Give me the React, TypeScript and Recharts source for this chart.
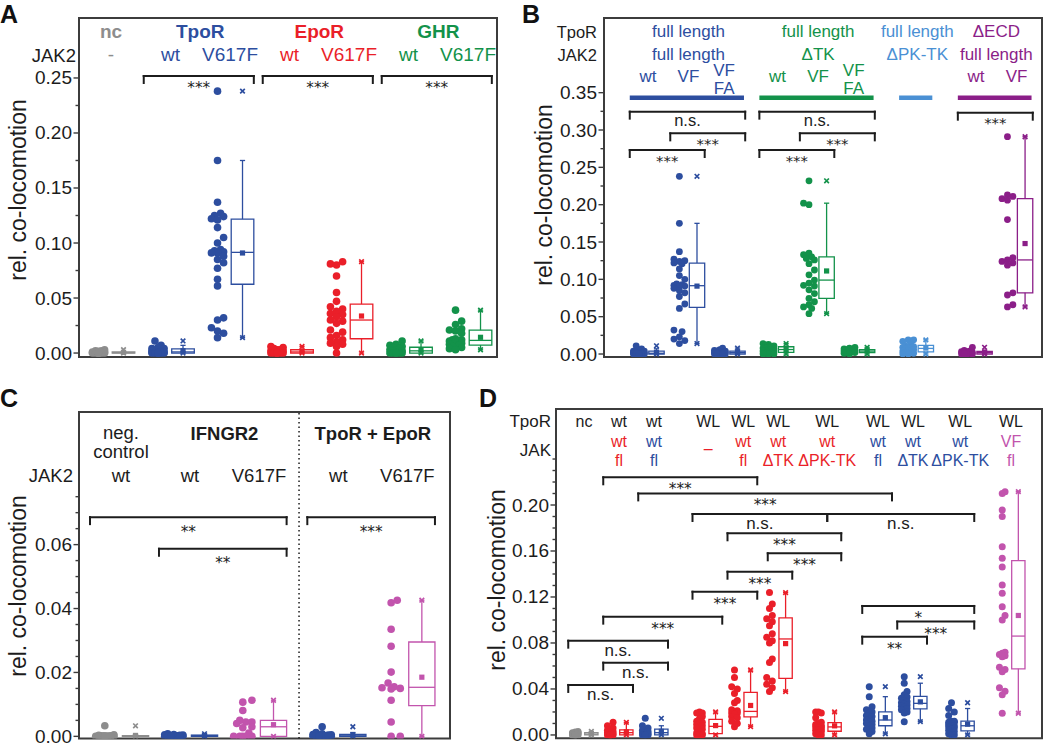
import React from 'react'
import { ComposedChart, Scatter, XAxis, YAxis, ReferenceArea, ReferenceLine } from 'recharts'

const FONT = '"Liberation Sans", Arial, Helvetica, sans-serif'
const STAR_FONT = '"DejaVu Sans", sans-serif'
const INK = '#1c1c1c'
const FRAME = '#3c3c3c'
const GREY = '#8d8d8d'
const BLUE = '#2d4e9f'
const RED = '#ea1f29'
const GREEN = '#13924a'
const LBLUE = '#4a90d4'
const PURPLE = '#8b1e88'
const MAGENTA = '#c254ad'

// ---------- panel A: receptor / JAK2 variant
const aReceptors = ['nc', 'TpoR', 'EpoR', 'GHR']
const aJak2 = ['-', 'wt', 'V617F', 'wt', 'V617F', 'wt', 'V617F']
const aNc = [0.003, 0.002, 0.002, 0.0015, 0.001, 0.001, 0.001, 0.0005, 0.0005, 0, 0, 0, 0, 0, 0, 0, 0, 0]
const aTpoRWt = [0.011, 0.007, 0.005, 0.004, 0.004, 0.003, 0.002, 0.002, 0.0015, 0.001, 0.001, 0.0005, 0.0005, 0, 0, 0, 0, 0, 0, 0]
const aTpoRVf = [0.238, 0.175, 0.137, 0.127, 0.125, 0.124, 0.122, 0.121, 0.114, 0.105, 0.1, 0.094, 0.093, 0.092, 0.091, 0.091, 0.088, 0.085, 0.082, 0.077, 0.067, 0.061, 0.032, 0.03, 0.023, 0.02, 0.018, 0.014]
const aEpoRWt = [0.006, 0.005, 0.004, 0.003, 0.003, 0.002, 0.002, 0.001, 0.001, 0.001, 0, 0, 0, 0, 0, 0, 0]
const aEpoRVf = [0.083, 0.081, 0.08, 0.07, 0.055, 0.047, 0.042, 0.04, 0.038, 0.036, 0.035, 0.033, 0.03, 0.029, 0.027, 0.021, 0.019, 0.016, 0.014, 0.012, 0.01, 0.009, 0.008, 0.006, 0]
const aGhrWt = [0.011, 0.008, 0.007, 0.006, 0.005, 0.004, 0.003, 0.003, 0.002, 0.002, 0.001, 0.001, 0, 0, 0, 0, 0, 0]
const aGhrVf = [0.039, 0.029, 0.026, 0.022, 0.021, 0.02, 0.018, 0.013, 0.012, 0.012, 0.011, 0.011, 0.01, 0.009, 0.008, 0.007, 0.006, 0.005, 0.004, 0.003]
const aMajor = [0, 0.05, 0.1, 0.15, 0.2, 0.25]
const aMinor = [0.025, 0.075, 0.125, 0.175, 0.225]

// ---------- panel B: TpoR / JAK2 constructs
const bTpoR = ['full length', 'full length', 'full length', 'ΔECD']
const bJak2 = ['full length', 'ΔTK', 'ΔPK-TK', 'full length']
const bVariant = ['wt', 'VF', 'VF\nFA', 'wt', 'VF', 'VF\nFA', '', 'wt', 'VF']
const bVfFa = [0.008, 0.006, 0.005, 0.004, 0.004, 0.003, 0.003, 0.002, 0.002, 0.001, 0.001, 0.001, 0, 0, 0, 0, 0]
const bTkWt = [0.014, 0.013, 0.012, 0.011, 0.01, 0.009, 0.008, 0.008, 0.007, 0.006, 0.006, 0.005, 0.004, 0.004, 0.003, 0.002, 0.001, 0, 0, 0]
const bTkVf = [0.232, 0.202, 0.2, 0.135, 0.133, 0.13, 0.128, 0.126, 0.121, 0.1125, 0.106, 0.099, 0.095, 0.092, 0.091, 0.086, 0.081, 0.0745, 0.07, 0.066, 0.063, 0.061, 0.054]
const bTkVfFa = [0.009, 0.008, 0.007, 0.006, 0.006, 0.005, 0.005, 0.004, 0.004, 0.003, 0.003, 0.002, 0.002, 0.001, 0]
const bPkTk = [0.019, 0.019, 0.017, 0.013, 0.011, 0.01, 0.009, 0.009, 0.008, 0.007, 0.006, 0.005, 0.004, 0.003, 0.002, 0.001, 0, 0]
const bEcdWt = [0.009, 0.005, 0.004, 0.003, 0.003, 0.002, 0.002, 0.001, 0.001, 0, 0, 0, 0]
const bEcdVf = [0.291, 0.213, 0.211, 0.208, 0.206, 0.18, 0.129, 0.126, 0.124, 0.122, 0.119, 0.082, 0.079, 0.066, 0.063]
const bMajor = [0, 0.05, 0.1, 0.15, 0.2, 0.25, 0.3, 0.35]
const bMinor = [0.025, 0.075, 0.125, 0.175, 0.225, 0.275, 0.325]

// ---------- panel C: IFNGR2 and TpoR + EpoR
const cNeg = [0.0033, 0.0005, 0.0003, 0.0002, 0.0002, 0.0001, 0.0001, 0, 0, 0, 0, 0, 0, 0, 0, 0]
const cIfnWt = [0.0008, 0.0006, 0.0005, 0.0004, 0.0003, 0.0002, 0.0002, 0.0001, 0.0001, 0, 0, 0, 0, 0, 0]
const cIfnVf = [0.0113, 0.0107, 0.0081, 0.005, 0.0045, 0.0045, 0.004, 0.003, 0.0027, 0.001, 0, 0, 0, 0, 0]
const cTeWt = [0.003, 0.0012, 0.0008, 0.0006, 0.0005, 0.0004, 0.0003, 0.0002, 0.0001, 0.0001, 0, 0, 0, 0, 0, 0]
const cTeVf = [0.0426, 0.0418, 0.0335, 0.0282, 0.0201, 0.0167, 0.0155, 0.0152, 0.015, 0.0148, 0.0113, 0.0045, 0, 0]
const cJak2 = ['wt', 'wt', 'V617F', 'wt', 'V617F']
const cMajor = [0, 0.02, 0.04, 0.06]
const cMinor = [0.005, 0.01, 0.015, 0.025, 0.03, 0.035, 0.045, 0.05, 0.055, 0.065, 0.07, 0.075]

// ---------- panel D: TpoR WL / JAK constructs
const dTpoR = ['nc', 'wt', 'wt', 'WL', 'WL', 'WL', 'WL', 'WL', 'WL', 'WL', 'WL']
const dJak = ['', 'wt\nfl', 'wt\nfl', '–', 'wt\nfl', 'wt\nΔTK', 'wt\nΔPK-TK', 'wt\nfl', 'wt\nΔTK', 'wt\nΔPK-TK', 'VF\nfl']
const dNc = [0.003, 0.0025, 0.002, 0.002, 0.0015, 0.001, 0.001, 0.0005, 0, 0, 0, 0, 0, 0]
const dWtRed = [0.011, 0.008, 0.006, 0.005, 0.004, 0.003, 0.003, 0.002, 0.002, 0.001, 0.001, 0, 0, 0, 0, 0, 0]
const dWtBlue = [0.0145, 0.008, 0.006, 0.005, 0.004, 0.003, 0.003, 0.002, 0.001, 0.001, 0, 0, 0, 0, 0]
const dWlNone = [0.02, 0.019, 0.019, 0.016, 0.014, 0.012, 0.011, 0.01, 0.009, 0.008, 0.007, 0.006, 0.005, 0.003, 0.002, 0.001, 0.001, 0, 0, 0]
const dWlFlRed = [0.0565, 0.05, 0.042, 0.04, 0.036, 0.03, 0.028, 0.022, 0.021, 0.02, 0.019, 0.019, 0.018, 0.016, 0.015, 0.012, 0.01, 0.0072]
const dWlTkRed = [0.1238, 0.114, 0.11, 0.104, 0.101, 0.0985, 0.095, 0.088, 0.085, 0.082, 0.08, 0.066, 0.063, 0.05, 0.047, 0.044, 0.041, 0.0377]
const dWlPkRed = [0.02, 0.02, 0.019, 0.015, 0.011, 0.01, 0.009, 0.008, 0.008, 0.007, 0.007, 0.006, 0.005, 0.004, 0.004, 0.003, 0.002, 0.001, 0, 0]
const dWlFlBlue = [0.042, 0.0333, 0.0246, 0.022, 0.02, 0.019, 0.017, 0.016, 0.014, 0.013, 0.012, 0.011, 0.01, 0.009, 0.008, 0.006, 0.005, 0.003, 0.001]
const dWlTkBlue = [0.0507, 0.045, 0.0377, 0.035, 0.033, 0.032, 0.03, 0.029, 0.028, 0.027, 0.026, 0.025, 0.024, 0.023, 0.022, 0.02, 0.019, 0.0116]
const dWlPkBlue = [0.028, 0.023, 0.02, 0.017, 0.012, 0.012, 0.011, 0.011, 0.01, 0.009, 0.008, 0.008, 0.007, 0.006, 0.005, 0.004, 0.003, 0.002, 0.001, 0, 0]
const dWlVf = [0.2116, 0.21, 0.1957, 0.19, 0.1638, 0.1536, 0.146, 0.1304, 0.1232, 0.1116, 0.104, 0.1, 0.072, 0.071, 0.07, 0.069, 0.068, 0.059, 0.057, 0.055, 0.041, 0.038, 0.035, 0.0189]
const dMajor = [0, 0.04, 0.08, 0.12, 0.16, 0.2]
const dMinor = [0.01, 0.02, 0.03, 0.05, 0.06, 0.07, 0.09, 0.1, 0.11, 0.13, 0.14, 0.15, 0.17, 0.18, 0.19, 0.21, 0.22, 0.23, 0.24]

// box statistics (Origin style quartiles, 1.5 IQR whiskers)
function quantile(s: number[], p: number) {
  const n = s.length
  const pos = p * (n + 1)
  if (pos <= 1) return s[0]
  if (pos >= n) return s[n - 1]
  const k = Math.floor(pos)
  return s[k - 1] + (pos - k) * (s[k] - s[k - 1])
}

function boxStats(values: number[]) {
  const s = [...values].sort((a, b) => a - b)
  const q1 = quantile(s, 0.25)
  const med = quantile(s, 0.5)
  const q3 = quantile(s, 0.75)
  const iqr = q3 - q1
  const lo = s.find((v) => v >= q1 - 1.5 * iqr) ?? s[0]
  const hi = [...s].reverse().find((v) => v <= q3 + 1.5 * iqr) ?? s[s.length - 1]
  const mean = s.reduce((a, b) => a + b, 0) / s.length
  return { q1, med, q3, lo, hi, mean, min: s[0], max: s[s.length - 1] }
}

// simple beeswarm inside the dot band left of each box
function swarm(values: number[], center: number, band: number[], pxX: number, pxY: number, r: number) {
  const lo = band[0] * pxX + r
  const hi = band[1] * pxX - r
  const mid = (lo + hi) / 2
  const cands = [mid]
  for (let k = 1; k < 40; k++) {
    const a = mid - k * r * 0.8
    const b = mid + k * r * 0.8
    if (a < lo && b > hi) break
    if (b <= hi) cands.push(b)
    if (a >= lo) cands.push(a)
  }
  const order = values.map((_, i) => i).sort((i, j) => values[i] - values[j])
  const placed: { x: number; y: number }[] = []
  const out: { x: number; y: number }[] = new Array(values.length)
  for (const i of order) {
    const y = values[i] * pxY
    let best = cands[0]
    let bestD = -1
    for (const c of cands) {
      let d = Infinity
      for (const q of placed) d = Math.min(d, Math.hypot(q.x - c, q.y - y))
      if (d >= 1.7 * r) {
        best = c
        break
      }
      if (d > bestD) {
        bestD = d
        best = c
      }
    }
    placed.push({ x: best, y })
    out[i] = { x: center + best / pxX, y: values[i] }
  }
  return out
}

const dotShape = (color: string, r: number) => (s: any) => <circle cx={s.cx} cy={s.cy} r={r} fill={color} />

const markerShape = (color: string) => (s: any) => {
  const { cx, cy } = s
  if (s.payload.k === 'sq') return <rect x={cx - 2.6} y={cy - 2.6} width={5.2} height={5.2} fill={color} />
  const h = 2.3
  return <path d={`M${cx - h},${cy - h}L${cx + h},${cy + h}M${cx - h},${cy + h}L${cx + h},${cy - h}`} stroke={color} strokeWidth={1.7} />
}

const textShape = (s: any) => {
  const d = s.payload
  const star = d.text.includes('*')
  return (
    <text
      x={s.cx}
      y={s.cy + (d.dy ?? 0)}
      textAnchor="middle"
      dominantBaseline="central"
      fontFamily={star ? STAR_FONT : FONT}
      fontSize={star ? d.size * 0.9 : d.size}
      fontWeight={d.bold ? 700 : 400}
      fill={d.color}
    >
      {d.text}
    </text>
  )
}

const yTick = (majors: number[], size: number) => (t: any) => {
  const v = Number(t.payload.value)
  const major = majors.some((m) => Math.abs(m - v) < 1e-9)
  return (
    <g>
      <line x1={t.x} x2={t.x - (major ? 5.5 : 3.5)} y1={t.y} y2={t.y} stroke={FRAME} strokeWidth={1.4} />
      {major && (
        <text x={t.x - 7} y={t.y} textAnchor="end" dominantBaseline="central" fontFamily={FONT} fontSize={size} fill={INK}>
          {v.toFixed(2)}
        </text>
      )}
    </g>
  )
}

type Bracket = { from: number; to: number; y: number; label: string; fromOff?: number; toOff?: number }
type Label = { text: string; at: number | number[]; y: number; color?: string; bold?: boolean; xOff?: number }

function Panel({ cfg }: { cfg: any }) {
  const [fl, ft, fr, fb] = cfg.frame
  const [x0, x1] = cfg.xDomain
  const [y0, y1] = cfg.yDomain
  const pxX = (fr - fl) / (x1 - x0)
  const pxY = (fb - ft) / (y1 - y0)
  const pad = { top: 10, right: 6, bottom: 14 }
  const pos: number[] = cfg.positions
  const at = (a: number | number[]) => (Array.isArray(a) ? (pos[a[0]] + pos[a[1]]) / 2 : pos[a])
  const tickLen = 7 / pxY
  const capHalf = 2.6 / pxX
  const items: React.ReactNode[] = []
  const texts: any[] = []
  const seg = (key: string, xa: number, ya: number, xb: number, yb: number, stroke: string, w: number, cap: any = 'butt') => (
    <ReferenceLine key={key} segment={[{ x: xa, y: ya }, { x: xb, y: yb }]} stroke={stroke} strokeWidth={w} strokeLinecap={cap} ifOverflow="visible" />
  )

  items.push(<ReferenceArea key="frame" x1={x0} x2={x1} y1={y0} y2={y1} fill="none" stroke={FRAME} strokeWidth={2} ifOverflow="visible" />)
  if (cfg.divider != null) {
    items.push(<ReferenceLine key="divider" x={cfg.divider} stroke={INK} strokeDasharray="1.5 3" strokeWidth={1.5} ifOverflow="visible" />)
  }
  for (const [k, b] of (cfg.bars || []).entries()) {
    items.push(seg(`bar${k}`, pos[b.from] - 0.45, b.y, pos[b.to] + 0.37, b.y, b.color, 4.5))
  }
  for (const [k, b] of (cfg.brackets as Bracket[]).entries()) {
    const xa = pos[b.from] + (b.fromOff ?? -0.45)
    const xb = pos[b.to] + (b.toOff ?? 0.4)
    items.push(seg(`bk${k}h`, xa, b.y, xb, b.y, INK, 2, 'square'))
    items.push(seg(`bk${k}a`, xa, b.y, xa, b.y - tickLen, INK, 2, 'square'))
    items.push(seg(`bk${k}b`, xb, b.y, xb, b.y - tickLen, INK, 2, 'square'))
    texts.push({ x: (xa + xb) / 2, y: b.y, text: b.label, color: INK, size: cfg.markSize, dy: b.label === 'n.s.' ? cfg.nsGap : cfg.starGap })
  }
  for (const [i, g] of (cfg.groups as { values: number[]; color: string }[]).entries()) {
    const c = pos[i]
    const s = boxStats(g.values)
    const bx0 = c + 0.02
    const bx1 = c + 0.4
    const xm = c + 0.21
    items.push(<ReferenceArea key={`box${i}`} x1={bx0} x2={bx1} y1={s.q1} y2={s.q3} fill="none" stroke={g.color} strokeWidth={1.3} ifOverflow="visible" />)
    items.push(seg(`med${i}`, bx0, s.med, bx1, s.med, g.color, 1.3))
    items.push(seg(`wh${i}`, xm, s.q3, xm, s.hi, g.color, 1.3))
    items.push(seg(`wl${i}`, xm, s.q1, xm, s.lo, g.color, 1.3))
    items.push(seg(`ch${i}`, xm - capHalf, s.hi, xm + capHalf, s.hi, g.color, 1.3))
    items.push(seg(`cl${i}`, xm - capHalf, s.lo, xm + capHalf, s.lo, g.color, 1.3))
    items.push(
      <Scatter key={`pts${i}`} data={swarm(g.values, c, cfg.band, pxX, pxY, cfg.dotR)} shape={dotShape(g.color, cfg.dotR)} isAnimationActive={false} />,
    )
    items.push(
      <Scatter
        key={`mk${i}`}
        data={[
          { x: xm, y: s.mean, k: 'sq' },
          { x: xm, y: s.min, k: 'x' },
          { x: xm, y: s.max, k: 'x' },
        ]}
        shape={markerShape(g.color)}
        isAnimationActive={false}
      />,
    )
  }
  for (const l of cfg.labels as Label[]) {
    texts.push({ x: at(l.at) + (l.xOff ?? 0), y: l.y, text: l.text, color: l.color ?? INK, bold: l.bold, size: cfg.labelSize })
  }
  items.push(<Scatter key="texts" data={texts} shape={textShape} isAnimationActive={false} />)

  return (
    <div style={{ position: 'absolute', left: fl - cfg.axisWidth, top: ft - pad.top }}>
      <ComposedChart
        width={fr - fl + cfg.axisWidth + pad.right}
        height={fb - ft + pad.top + pad.bottom}
        margin={{ top: pad.top, right: pad.right, bottom: pad.bottom, left: 0 }}
      >
        <XAxis type="number" dataKey="x" domain={cfg.xDomain} hide allowDataOverflow />
        <YAxis
          type="number"
          dataKey="y"
          domain={cfg.yDomain}
          ticks={cfg.ticks}
          interval={0}
          width={cfg.axisWidth}
          axisLine={false}
          tickLine={false}
          tickSize={0}
          tickMargin={0}
          tick={yTick(cfg.majors, cfg.tickSize)}
          allowDataOverflow
        />
        {items}
      </ComposedChart>
    </div>
  )
}

const multi = (t: string, at: number, ys: number[], color: string, xOff = 0): Label[] => {
  if (!t) return []
  const lines = t.split('\n')
  if (lines.length === 1) return [{ text: t, at, y: ys[0], color }]
  return lines.map((s, k) => ({ text: s, at, y: ys[k + 1], color, xOff }))
}

const aColors = [GREY, BLUE, BLUE, RED, RED, GREEN, GREEN]
const panelA = {
  frame: [79, 18, 497, 357],
  axisWidth: 79,
  xDomain: [-0.538, 6.487],
  yDomain: [-0.0036, 0.3045],
  positions: [0, 1, 2, 3, 4, 5, 6],
  groups: [aNc, aTpoRWt, aTpoRVf, aEpoRWt, aEpoRVf, aGhrWt, aGhrVf].map((values, i) => ({ values, color: aColors[i] })),
  ticks: [...aMajor, ...aMinor],
  majors: aMajor,
  brackets: [
    { from: 1, to: 2, y: 0.2518, label: '***' },
    { from: 3, to: 4, y: 0.2518, label: '***' },
    { from: 5, to: 6, y: 0.2518, label: '***' },
  ],
  labels: [
    { text: aReceptors[0], at: 0, y: 0.2918, color: GREY, bold: true },
    { text: aReceptors[1], at: [1, 2], y: 0.2918, color: BLUE, bold: true },
    { text: aReceptors[2], at: [3, 4], y: 0.2918, color: RED, bold: true },
    { text: aReceptors[3], at: [5, 6], y: 0.2918, color: GREEN, bold: true },
    ...aJak2.map((t, i) => ({ text: t, at: i, y: 0.2709, color: aColors[i] })),
  ],
  dotR: 3.8,
  band: [-0.4, -0.02],
  tickSize: 19,
  labelSize: 19,
  markSize: 17,
  starGap: 12,
  nsGap: 9,
}

const bColors = [BLUE, BLUE, BLUE, GREEN, GREEN, GREEN, LBLUE, PURPLE, PURPLE]
const bSpans = [[0, 2], [3, 5], [6, 6], [7, 8]]
const bSpanColors = [BLUE, GREEN, LBLUE, PURPLE]
const panelB = {
  frame: [604, 18, 1042, 357],
  axisWidth: 84,
  xDomain: [-1.086, 9.728],
  yDomain: [-0.004, 0.45],
  positions: [0, 1, 2, 3.2, 4.2, 5.2, 6.65, 8.1, 9.1],
  groups: [aTpoRWt, aTpoRVf, bVfFa, bTkWt, bTkVf, bTkVfFa, bPkTk, bEcdWt, bEcdVf].map((values, i) => ({ values, color: bColors[i] })),
  ticks: [...bMajor, ...bMinor],
  majors: bMajor,
  bars: bSpans.map((sp, k) => ({ from: sp[0], to: sp[1], y: 0.3433, color: bSpanColors[k] })),
  brackets: [
    { from: 0, to: 2, y: 0.3246, label: 'n.s.' },
    { from: 1, to: 2, y: 0.2955, label: '***' },
    { from: 0, to: 1, y: 0.2732, label: '***' },
    { from: 3, to: 5, y: 0.3246, label: 'n.s.' },
    { from: 4, to: 5, y: 0.2955, label: '***' },
    { from: 3, to: 4, y: 0.2732, label: '***' },
    { from: 7, to: 8, y: 0.3232, label: '***' },
  ],
  labels: [
    ...bTpoR.map((t, k) => ({ text: t, at: bSpans[k], y: 0.4317, color: bSpanColors[k] })),
    ...bJak2.map((t, k) => ({ text: t, at: bSpans[k], y: 0.4005, color: bSpanColors[k] })),
    ...bVariant.flatMap((t, i) => multi(t, i, [0.3723, 0.3795, 0.3555], bColors[i], -0.12)),
  ],
  dotR: 3.4,
  band: [-0.45, 0],
  tickSize: 19,
  labelSize: 17,
  markSize: 16.5,
  starGap: 10.5,
  nsGap: 8.5,
}

const cColors = [GREY, BLUE, MAGENTA, BLUE, MAGENTA]
const panelC = {
  frame: [79, 411.7, 450, 738.3],
  axisWidth: 79,
  xDomain: [-0.609, 4.768],
  yDomain: [-0.0007, 0.1015],
  positions: [0, 1, 2, 3.15, 4.15],
  divider: 2.58,
  groups: [cNeg, cIfnWt, cIfnVf, cTeWt, cTeVf].map((values, i) => ({ values, color: cColors[i] })),
  ticks: [...cMajor, ...cMinor],
  majors: cMajor,
  brackets: [
    { from: 0, to: 2, y: 0.0686, label: '**' },
    { from: 1, to: 2, y: 0.0587, label: '**' },
    { from: 3, to: 4, y: 0.0686, label: '***' },
  ],
  labels: [
    { text: 'neg.', at: 0, y: 0.0952 },
    { text: 'control', at: 0, y: 0.0892 },
    { text: 'IFNGR2', at: [1, 2], y: 0.0947, bold: true },
    { text: 'TpoR + EpoR', at: [3, 4], y: 0.0947, bold: true },
    ...cJak2.map((t, i) => ({ text: t, at: i, y: 0.0817 })),
  ],
  dotR: 3.8,
  band: [-0.45, -0.02],
  tickSize: 19,
  labelSize: 18.5,
  markSize: 17,
  starGap: 14.5,
  nsGap: 9,
}

const dColors = [GREY, RED, BLUE, RED, RED, RED, RED, BLUE, BLUE, BLUE, MAGENTA]
const panelD = {
  frame: [556, 409, 1042, 738.3],
  axisWidth: 80,
  xDomain: [-0.8, 13.086],
  yDomain: [-0.0029, 0.2835],
  positions: [0, 1, 2, 3.55, 4.55, 5.55, 6.95, 8.4, 9.4, 10.75, 12.2],
  groups: [dNc, dWtRed, dWtBlue, dWlNone, dWlFlRed, dWlTkRed, dWlPkRed, dWlFlBlue, dWlTkBlue, dWlPkBlue, dWlVf].map((values, i) => ({
    values,
    color: dColors[i],
  })),
  ticks: [...dMajor, ...dMinor],
  majors: dMajor,
  brackets: [
    { from: 1, to: 4, y: 0.2241, label: '***' },
    { from: 2, to: 7, y: 0.2101, label: '***' },
    { from: 3, to: 6, y: 0.1922, label: 'n.s.', toOff: 0 },
    { from: 6, to: 9, y: 0.1922, label: 'n.s.', fromOff: 0 },
    { from: 4, to: 6, y: 0.1754, label: '***' },
    { from: 5, to: 6, y: 0.158, label: '***', fromOff: -0.3 },
    { from: 4, to: 5, y: 0.142, label: '***' },
    { from: 3, to: 4, y: 0.1246, label: '***' },
    { from: 1, to: 3, y: 0.1029, label: '***' },
    { from: 0, to: 2, y: 0.082, label: 'n.s.' },
    { from: 1, to: 2, y: 0.0629, label: 'n.s.' },
    { from: 0, to: 1, y: 0.0435, label: 'n.s.' },
    { from: 7, to: 9, y: 0.1122, label: '*' },
    { from: 8, to: 9, y: 0.0986, label: '***' },
    { from: 7, to: 8, y: 0.0855, label: '**' },
  ],
  labels: [
    ...dTpoR.map((t, i) => ({ text: t, at: i, y: 0.273 })),
    ...dJak.flatMap((t, i) => multi(t, i, [0.249, 0.255, 0.2385], dColors[i])),
  ],
  dotR: 3.5,
  band: [-0.5, 0],
  tickSize: 19,
  labelSize: 16,
  markSize: 17,
  starGap: 12,
  nsGap: 9.5,
}

const panelLetters = [
  { t: 'A', x: 0, y: 23 },
  { t: 'B', x: 522, y: 23 },
  { t: 'C', x: 0, y: 407 },
  { t: 'D', x: 479, y: 407 },
]
const yTitles = [
  { x: 17.5, y: 190 },
  { x: 543.5, y: 195 },
  { x: 17.5, y: 586 },
  { x: 496.5, y: 580 },
]
const rowLabels = [
  { t: 'JAK2', x: 76, y: 55, s: 18.5 },
  { t: 'TpoR', x: 597, y: 32, s: 16.5 },
  { t: 'JAK2', x: 597, y: 55, s: 16.5 },
  { t: 'JAK2', x: 73, y: 475, s: 18.5 },
  { t: 'TpoR', x: 551, y: 421, s: 17 },
  { t: 'JAK', x: 551, y: 450, s: 17 },
]

export default function App() {
  return (
    <div style={{ position: 'absolute', left: 0, top: 0, width: 1050, height: 743, background: '#fff', overflow: 'hidden' }}>
      <Panel cfg={panelA} />
      <Panel cfg={panelB} />
      <Panel cfg={panelC} />
      <Panel cfg={panelD} />
      <svg width={1050} height={743} style={{ position: 'absolute', left: 0, top: 0, pointerEvents: 'none' }} fontFamily={FONT}>
        {panelLetters.map((l) => (
          <text key={l.t} x={l.x} y={l.y} fontSize={25} fontWeight={700} fill="#111">
            {l.t}
          </text>
        ))}
        {yTitles.map((p, i) => (
          <text key={`yt${i}`} transform={`translate(${p.x},${p.y}) rotate(-90)`} textAnchor="middle" dominantBaseline="central" fontSize={23} fill={INK}>
            rel. co-locomotion
          </text>
        ))}
        {rowLabels.map((r, i) => (
          <text key={`rl${i}`} x={r.x} y={r.y} textAnchor="end" dominantBaseline="central" fontSize={r.s} fill={INK}>
            {r.t}
          </text>
        ))}
      </svg>
    </div>
  )
}
